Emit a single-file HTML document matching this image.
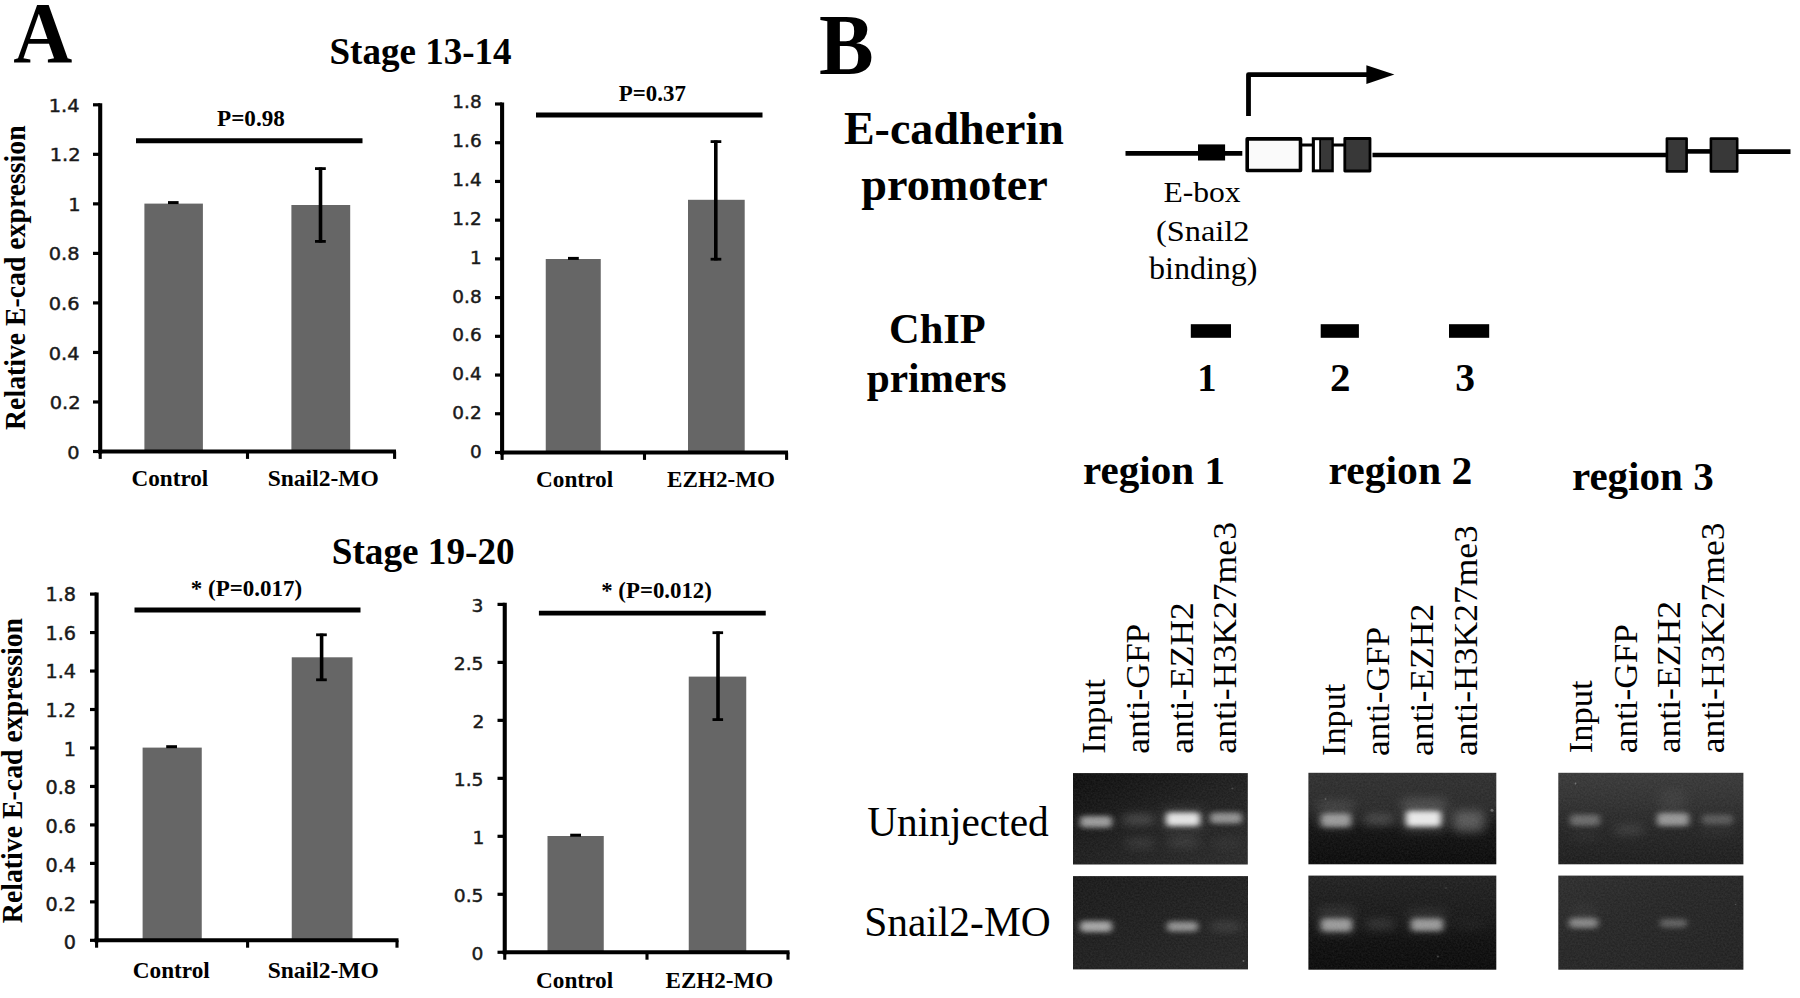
<!DOCTYPE html>
<html lang="en">
<head>
<meta charset="utf-8">
<title>E-cadherin expression and ChIP figure</title>
<style>
html,body{margin:0;padding:0;background:#fff;}
body{width:1800px;height:998px;overflow:hidden;font-family:"Liberation Serif",serif;}
svg{display:block;}
text{white-space:pre;}
</style>
</head>
<body>
<svg width="1800" height="998" viewBox="0 0 1800 998">
<rect x="0" y="0" width="1800" height="998" fill="#ffffff"/>
<g id="shapes">
<rect x="144.4" y="203.6" width="58.50" height="247.90" fill="#666666"/>
<rect x="291.4" y="205.0" width="58.80" height="246.50" fill="#666666"/>
<line x1="100.2" y1="103.2" x2="100.2" y2="453.5" stroke="#000" stroke-width="4.1" stroke-linecap="butt"/>
<line x1="93" y1="104.8" x2="100.2" y2="104.8" stroke="#000" stroke-width="3.2" stroke-linecap="butt"/>
<line x1="93" y1="154.32999999999998" x2="100.2" y2="154.32999999999998" stroke="#000" stroke-width="3.2" stroke-linecap="butt"/>
<line x1="93" y1="203.86" x2="100.2" y2="203.86" stroke="#000" stroke-width="3.2" stroke-linecap="butt"/>
<line x1="93" y1="253.39" x2="100.2" y2="253.39" stroke="#000" stroke-width="3.2" stroke-linecap="butt"/>
<line x1="93" y1="302.92" x2="100.2" y2="302.92" stroke="#000" stroke-width="3.2" stroke-linecap="butt"/>
<line x1="93" y1="352.45" x2="100.2" y2="352.45" stroke="#000" stroke-width="3.2" stroke-linecap="butt"/>
<line x1="93" y1="401.98" x2="100.2" y2="401.98" stroke="#000" stroke-width="3.2" stroke-linecap="butt"/>
<line x1="93" y1="451.51000000000005" x2="100.2" y2="451.51000000000005" stroke="#000" stroke-width="3.2" stroke-linecap="butt"/>
<line x1="98.2" y1="451.5" x2="396" y2="451.5" stroke="#000" stroke-width="4.0" stroke-linecap="butt"/>
<line x1="100.2" y1="451.5" x2="100.2" y2="458.9" stroke="#000" stroke-width="3.1" stroke-linecap="butt"/>
<line x1="247.5" y1="451.5" x2="247.5" y2="458.9" stroke="#000" stroke-width="3.1" stroke-linecap="butt"/>
<line x1="394.6" y1="451.5" x2="394.6" y2="458.9" stroke="#000" stroke-width="3.1" stroke-linecap="butt"/>
<line x1="168" y1="202.6" x2="178.6" y2="202.6" stroke="#000" stroke-width="3.0" stroke-linecap="butt"/>
<line x1="320.5" y1="167.4" x2="320.5" y2="242.6" stroke="#000" stroke-width="3.6" stroke-linecap="butt"/>
<line x1="315" y1="168.6" x2="325.8" y2="168.6" stroke="#000" stroke-width="2.8" stroke-linecap="butt"/>
<line x1="315" y1="241.4" x2="325.8" y2="241.4" stroke="#000" stroke-width="2.8" stroke-linecap="butt"/>
<line x1="136" y1="140.7" x2="362.5" y2="140.7" stroke="#000" stroke-width="5.0" stroke-linecap="butt"/>
<rect x="545.75" y="259.0" width="55.00" height="193.50" fill="#666666"/>
<rect x="688" y="199.8" width="56.70" height="252.70" fill="#666666"/>
<line x1="502.1" y1="102.4" x2="502.1" y2="454.5" stroke="#000" stroke-width="4.1" stroke-linecap="butt"/>
<line x1="495" y1="104.0" x2="502.1" y2="104.0" stroke="#000" stroke-width="3.2" stroke-linecap="butt"/>
<line x1="495" y1="142.72" x2="502.1" y2="142.72" stroke="#000" stroke-width="3.2" stroke-linecap="butt"/>
<line x1="495" y1="181.44" x2="502.1" y2="181.44" stroke="#000" stroke-width="3.2" stroke-linecap="butt"/>
<line x1="495" y1="220.16" x2="502.1" y2="220.16" stroke="#000" stroke-width="3.2" stroke-linecap="butt"/>
<line x1="495" y1="258.88" x2="502.1" y2="258.88" stroke="#000" stroke-width="3.2" stroke-linecap="butt"/>
<line x1="495" y1="297.6" x2="502.1" y2="297.6" stroke="#000" stroke-width="3.2" stroke-linecap="butt"/>
<line x1="495" y1="336.32" x2="502.1" y2="336.32" stroke="#000" stroke-width="3.2" stroke-linecap="butt"/>
<line x1="495" y1="375.03999999999996" x2="502.1" y2="375.03999999999996" stroke="#000" stroke-width="3.2" stroke-linecap="butt"/>
<line x1="495" y1="413.76" x2="502.1" y2="413.76" stroke="#000" stroke-width="3.2" stroke-linecap="butt"/>
<line x1="495" y1="452.48" x2="502.1" y2="452.48" stroke="#000" stroke-width="3.2" stroke-linecap="butt"/>
<line x1="500.1" y1="452.5" x2="788" y2="452.5" stroke="#000" stroke-width="4.0" stroke-linecap="butt"/>
<line x1="502.1" y1="452.5" x2="502.1" y2="459.9" stroke="#000" stroke-width="3.1" stroke-linecap="butt"/>
<line x1="644.5" y1="452.5" x2="644.5" y2="459.9" stroke="#000" stroke-width="3.1" stroke-linecap="butt"/>
<line x1="786.6" y1="452.5" x2="786.6" y2="459.9" stroke="#000" stroke-width="3.1" stroke-linecap="butt"/>
<line x1="568" y1="258.4" x2="578.8" y2="258.4" stroke="#000" stroke-width="3.0" stroke-linecap="butt"/>
<line x1="715.8" y1="140.4" x2="715.8" y2="260.4" stroke="#000" stroke-width="3.6" stroke-linecap="butt"/>
<line x1="710.6" y1="141.6" x2="721.3" y2="141.6" stroke="#000" stroke-width="2.8" stroke-linecap="butt"/>
<line x1="710.6" y1="259.2" x2="721.3" y2="259.2" stroke="#000" stroke-width="2.8" stroke-linecap="butt"/>
<line x1="536" y1="115.0" x2="762.5" y2="115.0" stroke="#000" stroke-width="5.0" stroke-linecap="butt"/>
<rect x="142.6" y="747.6" width="59.15" height="192.70" fill="#666666"/>
<rect x="291.75" y="657.3" width="60.75" height="283.00" fill="#666666"/>
<line x1="96.6" y1="592.5" x2="96.6" y2="942.3" stroke="#000" stroke-width="4.1" stroke-linecap="butt"/>
<line x1="90" y1="594.1" x2="96.6" y2="594.1" stroke="#000" stroke-width="3.2" stroke-linecap="butt"/>
<line x1="90" y1="632.57" x2="96.6" y2="632.57" stroke="#000" stroke-width="3.2" stroke-linecap="butt"/>
<line x1="90" y1="671.04" x2="96.6" y2="671.04" stroke="#000" stroke-width="3.2" stroke-linecap="butt"/>
<line x1="90" y1="709.51" x2="96.6" y2="709.51" stroke="#000" stroke-width="3.2" stroke-linecap="butt"/>
<line x1="90" y1="747.98" x2="96.6" y2="747.98" stroke="#000" stroke-width="3.2" stroke-linecap="butt"/>
<line x1="90" y1="786.45" x2="96.6" y2="786.45" stroke="#000" stroke-width="3.2" stroke-linecap="butt"/>
<line x1="90" y1="824.9200000000001" x2="96.6" y2="824.9200000000001" stroke="#000" stroke-width="3.2" stroke-linecap="butt"/>
<line x1="90" y1="863.39" x2="96.6" y2="863.39" stroke="#000" stroke-width="3.2" stroke-linecap="butt"/>
<line x1="90" y1="901.86" x2="96.6" y2="901.86" stroke="#000" stroke-width="3.2" stroke-linecap="butt"/>
<line x1="90" y1="940.33" x2="96.6" y2="940.33" stroke="#000" stroke-width="3.2" stroke-linecap="butt"/>
<line x1="94.6" y1="940.3" x2="398.5" y2="940.3" stroke="#000" stroke-width="4.0" stroke-linecap="butt"/>
<line x1="96.6" y1="940.3" x2="96.6" y2="947.6999999999999" stroke="#000" stroke-width="3.1" stroke-linecap="butt"/>
<line x1="247.6" y1="940.3" x2="247.6" y2="947.6999999999999" stroke="#000" stroke-width="3.1" stroke-linecap="butt"/>
<line x1="397" y1="940.3" x2="397" y2="947.6999999999999" stroke="#000" stroke-width="3.1" stroke-linecap="butt"/>
<line x1="166.2" y1="746.7" x2="177" y2="746.7" stroke="#000" stroke-width="3.0" stroke-linecap="butt"/>
<line x1="321.6" y1="633.6" x2="321.6" y2="681.0" stroke="#000" stroke-width="3.6" stroke-linecap="butt"/>
<line x1="316.1" y1="634.8000000000001" x2="326.8" y2="634.8000000000001" stroke="#000" stroke-width="2.8" stroke-linecap="butt"/>
<line x1="316.1" y1="679.8" x2="326.8" y2="679.8" stroke="#000" stroke-width="2.8" stroke-linecap="butt"/>
<line x1="134.5" y1="610.0" x2="360.5" y2="610.0" stroke="#000" stroke-width="5.0" stroke-linecap="butt"/>
<rect x="547.5" y="836.0" width="56.25" height="116.30" fill="#666666"/>
<rect x="688.75" y="676.6" width="57.50" height="275.70" fill="#666666"/>
<line x1="504.75" y1="602.8" x2="504.75" y2="954.3" stroke="#000" stroke-width="4.1" stroke-linecap="butt"/>
<line x1="497.5" y1="604.4" x2="504.75" y2="604.4" stroke="#000" stroke-width="3.2" stroke-linecap="butt"/>
<line x1="497.5" y1="662.38" x2="504.75" y2="662.38" stroke="#000" stroke-width="3.2" stroke-linecap="butt"/>
<line x1="497.5" y1="720.36" x2="504.75" y2="720.36" stroke="#000" stroke-width="3.2" stroke-linecap="butt"/>
<line x1="497.5" y1="778.3399999999999" x2="504.75" y2="778.3399999999999" stroke="#000" stroke-width="3.2" stroke-linecap="butt"/>
<line x1="497.5" y1="836.3199999999999" x2="504.75" y2="836.3199999999999" stroke="#000" stroke-width="3.2" stroke-linecap="butt"/>
<line x1="497.5" y1="894.3" x2="504.75" y2="894.3" stroke="#000" stroke-width="3.2" stroke-linecap="butt"/>
<line x1="497.5" y1="952.28" x2="504.75" y2="952.28" stroke="#000" stroke-width="3.2" stroke-linecap="butt"/>
<line x1="502.75" y1="952.3" x2="789.5" y2="952.3" stroke="#000" stroke-width="4.0" stroke-linecap="butt"/>
<line x1="504.75" y1="952.3" x2="504.75" y2="959.6999999999999" stroke="#000" stroke-width="3.1" stroke-linecap="butt"/>
<line x1="647" y1="952.3" x2="647" y2="959.6999999999999" stroke="#000" stroke-width="3.1" stroke-linecap="butt"/>
<line x1="788" y1="952.3" x2="788" y2="959.6999999999999" stroke="#000" stroke-width="3.1" stroke-linecap="butt"/>
<line x1="570.2" y1="835.2" x2="581" y2="835.2" stroke="#000" stroke-width="3.0" stroke-linecap="butt"/>
<line x1="718" y1="631.5" x2="718" y2="720.8" stroke="#000" stroke-width="3.6" stroke-linecap="butt"/>
<line x1="712.5" y1="632.7" x2="723.1" y2="632.7" stroke="#000" stroke-width="2.8" stroke-linecap="butt"/>
<line x1="712.5" y1="719.5999999999999" x2="723.1" y2="719.5999999999999" stroke="#000" stroke-width="2.8" stroke-linecap="butt"/>
<line x1="538.9" y1="613.1" x2="765.75" y2="613.1" stroke="#000" stroke-width="4.9" stroke-linecap="butt"/>
<line x1="1125.5" y1="153.4" x2="1242.3" y2="153.4" stroke="#000" stroke-width="4.8" stroke-linecap="butt"/>
<line x1="1372.5" y1="155.0" x2="1666" y2="155.0" stroke="#000" stroke-width="4.5" stroke-linecap="butt"/>
<line x1="1687" y1="151.4" x2="1710" y2="151.4" stroke="#000" stroke-width="4.6" stroke-linecap="butt"/>
<line x1="1738" y1="151.7" x2="1790.5" y2="151.7" stroke="#000" stroke-width="4.8" stroke-linecap="butt"/>
<line x1="1301" y1="145.0" x2="1313" y2="145.0" stroke="#000" stroke-width="3.0" stroke-linecap="butt"/>
<line x1="1333" y1="145.0" x2="1344.5" y2="145.0" stroke="#000" stroke-width="3.0" stroke-linecap="butt"/>
<rect x="1198" y="144.4" width="27.10" height="16.10" fill="#000"/>
<rect x="1247.2" y="138.9" width="53.30" height="31.60" fill="#fafafa" stroke="#000" stroke-width="3.6" stroke-linejoin="round"/>
<rect x="1311.8" y="137.2" width="22.00" height="35.10" fill="#000"/>
<rect x="1314.9" y="140.2" width="4.30" height="29.20" fill="#fff"/>
<rect x="1321.0" y="140.2" width="10.40" height="29.20" fill="#383838"/>
<rect x="1344.8" y="138.5" width="25.20" height="32.50" fill="#383838" stroke="#000" stroke-width="2.8" stroke-linejoin="round"/>
<rect x="1666.9" y="138.6" width="19.70" height="32.80" fill="#383838" stroke="#000" stroke-width="2.6" stroke-linejoin="round"/>
<rect x="1710.9" y="138.6" width="26.30" height="32.80" fill="#383838" stroke="#000" stroke-width="2.6" stroke-linejoin="round"/>
<polyline points="1248.5,116 1248.5,74.6 1368,74.6" fill="none" stroke="#000" stroke-width="4.8" stroke-linejoin="round"/>
<polygon points="1366.4,65.2 1394.4,74.6 1366.4,84.1" fill="#000"/>
<rect x="1190.8" y="324.2" width="40.20" height="13.60" fill="#000"/>
<rect x="1320.7" y="324.2" width="38.20" height="13.60" fill="#000"/>
<rect x="1449" y="324.2" width="40.20" height="13.60" fill="#000"/>
</g>
<g id="gels">
<defs>
<filter id="b3" x="-30%" y="-90%" width="160%" height="280%"><feGaussianBlur stdDeviation="3.4 2.9"/></filter>
<filter id="b5" x="-40%" y="-100%" width="180%" height="300%"><feGaussianBlur stdDeviation="5.5 5"/></filter>
<filter id="noise" x="0" y="0" width="100%" height="100%"><feTurbulence type="fractalNoise" baseFrequency="0.55" numOctaves="2" seed="7" result="n"/><feColorMatrix in="n" type="matrix" values="0 0 0 0 1  0 0 0 0 1  0 0 0 0 1  0.11 0 0 0 -0.025"/></filter>
<linearGradient id="g1a" x1="0" y1="0" x2="1" y2="1"><stop offset="0" stop-color="#0c0c0c"/><stop offset="0.45" stop-color="#1c1c1c"/><stop offset="1" stop-color="#2a2a2a"/></linearGradient>
<linearGradient id="g1b" x1="0" y1="0" x2="1" y2="1"><stop offset="0" stop-color="#181818"/><stop offset="1" stop-color="#252525"/></linearGradient>
<linearGradient id="g2a" x1="0" y1="0" x2="0" y2="1"><stop offset="0" stop-color="#2e2e2e"/><stop offset="0.35" stop-color="#2a2a2a"/><stop offset="0.62" stop-color="#111111"/><stop offset="1" stop-color="#090909"/></linearGradient>
<linearGradient id="g2b" x1="0" y1="0" x2="0" y2="1"><stop offset="0" stop-color="#202020"/><stop offset="0.45" stop-color="#171717"/><stop offset="0.7" stop-color="#0d0d0d"/><stop offset="1" stop-color="#090909"/></linearGradient>
<linearGradient id="g3a" x1="0" y1="0" x2="0" y2="1"><stop offset="0" stop-color="#383838"/><stop offset="0.3" stop-color="#303030"/><stop offset="0.6" stop-color="#242424"/><stop offset="1" stop-color="#1c1c1c"/></linearGradient>
<linearGradient id="g3b" x1="0" y1="0" x2="1" y2="1"><stop offset="0" stop-color="#2c2c2c"/><stop offset="0.4" stop-color="#252525"/><stop offset="1" stop-color="#202020"/></linearGradient>
</defs>
<clipPath id="c1a"><rect x="1073" y="773.1" width="174.8" height="91.4"/></clipPath>
<rect x="1073" y="773.1" width="174.8" height="91.4" fill="url(#g1a)"/>
<g clip-path="url(#c1a)">
<rect x="1080" y="816" width="32.0" height="11.5" rx="4" fill="#fff" opacity="0.56" filter="url(#b3)"/>
<rect x="1123" y="815" width="31.0" height="9.0" rx="4" fill="#fff" opacity="0.21" filter="url(#b5)"/>
<rect x="1126" y="838" width="28.0" height="10.0" rx="4" fill="#fff" opacity="0.1" filter="url(#b5)"/>
<rect x="1166" y="812.5" width="34.0" height="13.5" rx="4" fill="#fff" opacity="0.86" filter="url(#b3)"/>
<rect x="1162" y="806" width="42.0" height="26.0" rx="4" fill="#fff" opacity="0.08" filter="url(#b5)"/>
<rect x="1168" y="837" width="30.0" height="10.0" rx="4" fill="#fff" opacity="0.11" filter="url(#b5)"/>
<rect x="1210" y="812.5" width="32.0" height="11.0" rx="4" fill="#fff" opacity="0.5" filter="url(#b3)"/>
<rect x="1212" y="838" width="28.0" height="10.0" rx="4" fill="#fff" opacity="0.05" filter="url(#b5)"/>
<circle cx="1232.5" cy="788.5" r="1.1" fill="#fff" opacity="0.18"/>
<rect x="1073" y="773.1" width="174.8" height="91.4" filter="url(#noise)"/>
</g>
<clipPath id="c1b"><rect x="1073" y="876.1" width="175.0" height="93.3"/></clipPath>
<rect x="1073" y="876.1" width="175.0" height="93.3" fill="url(#g1b)"/>
<g clip-path="url(#c1b)">
<rect x="1080" y="921" width="32.0" height="11.0" rx="4" fill="#fff" opacity="0.6" filter="url(#b3)"/>
<rect x="1167" y="921.5" width="31.0" height="10.0" rx="4" fill="#fff" opacity="0.5" filter="url(#b3)"/>
<rect x="1211" y="923" width="29.0" height="7.0" rx="4" fill="#fff" opacity="0.16" filter="url(#b5)"/>
<circle cx="1243.5" cy="961" r="0.9" fill="#fff" opacity="0.3"/>
<rect x="1073" y="876.1" width="175.0" height="93.3" filter="url(#noise)"/>
</g>
<clipPath id="c2a"><rect x="1308.4" y="772.8" width="187.9" height="91.5"/></clipPath>
<rect x="1308.4" y="772.8" width="187.9" height="91.5" fill="url(#g2a)"/>
<g clip-path="url(#c2a)">
<rect x="1321" y="813.5" width="30.0" height="13.5" rx="4" fill="#fff" opacity="0.5" filter="url(#b3)"/>
<rect x="1318" y="800" width="36.0" height="30.0" rx="4" fill="#fff" opacity="0.1" filter="url(#b5)"/>
<rect x="1364" y="814" width="30.0" height="11.0" rx="4" fill="#fff" opacity="0.2" filter="url(#b5)"/>
<rect x="1406" y="811" width="35.0" height="15.5" rx="4" fill="#fff" opacity="0.88" filter="url(#b3)"/>
<rect x="1402" y="798" width="44.0" height="34.0" rx="4" fill="#fff" opacity="0.15" filter="url(#b5)"/>
<rect x="1453" y="811" width="31.0" height="21.0" rx="4" fill="#fff" opacity="0.27" filter="url(#b5)"/>
<circle cx="1492" cy="810.2" r="1.5" fill="#fff" opacity="0.3"/>
<circle cx="1325.5" cy="799" r="0.9" fill="#fff" opacity="0.2"/>
<rect x="1308.4" y="772.8" width="187.9" height="91.5" filter="url(#noise)"/>
</g>
<clipPath id="c2b"><rect x="1308.4" y="875.6" width="187.9" height="94.1"/></clipPath>
<rect x="1308.4" y="875.6" width="187.9" height="94.1" fill="url(#g2b)"/>
<g clip-path="url(#c2b)">
<rect x="1321" y="918.5" width="31.0" height="13.0" rx="4" fill="#fff" opacity="0.52" filter="url(#b3)"/>
<rect x="1318" y="906" width="37.0" height="30.0" rx="4" fill="#fff" opacity="0.09" filter="url(#b5)"/>
<rect x="1366" y="920" width="28.0" height="9.0" rx="4" fill="#fff" opacity="0.14" filter="url(#b5)"/>
<rect x="1411" y="918.5" width="32.0" height="12.5" rx="4" fill="#fff" opacity="0.52" filter="url(#b3)"/>
<rect x="1408" y="908" width="38.0" height="26.0" rx="4" fill="#fff" opacity="0.07" filter="url(#b5)"/>
<rect x="1456" y="921" width="28.0" height="8.0" rx="4" fill="#fff" opacity="0.04" filter="url(#b5)"/>
<circle cx="1438" cy="956.5" r="1.1" fill="#fff" opacity="0.2"/>
<circle cx="1446" cy="888" r="1.0" fill="#fff" opacity="0.12"/>
<rect x="1308.4" y="875.6" width="187.9" height="94.1" filter="url(#noise)"/>
</g>
<clipPath id="c3a"><rect x="1558.3" y="772.8" width="185.1" height="91.5"/></clipPath>
<rect x="1558.3" y="772.8" width="185.1" height="91.5" fill="url(#g3a)"/>
<g clip-path="url(#c3a)">
<rect x="1570" y="814.5" width="30.0" height="11.5" rx="4" fill="#fff" opacity="0.3" filter="url(#b3)"/>
<rect x="1572" y="832" width="26.0" height="8.0" rx="4" fill="#fff" opacity="0.04" filter="url(#b5)"/>
<rect x="1615" y="825.5" width="28.0" height="8.5" rx="4" fill="#fff" opacity="0.13" filter="url(#b5)"/>
<rect x="1657" y="813" width="32.0" height="13.0" rx="4" fill="#fff" opacity="0.5" filter="url(#b3)"/>
<rect x="1660" y="790" width="26.0" height="25.0" rx="4" fill="#fff" opacity="0.05" filter="url(#b5)"/>
<rect x="1702" y="814.5" width="31.0" height="10.0" rx="4" fill="#fff" opacity="0.22" filter="url(#b3)"/>
<rect x="1700" y="826" width="35.0" height="10.0" rx="4" fill="#fff" opacity="0.03" filter="url(#b5)"/>
<circle cx="1575.5" cy="783.5" r="0.9" fill="#fff" opacity="0.3"/>
<rect x="1558.3" y="772.8" width="185.1" height="91.5" filter="url(#noise)"/>
</g>
<clipPath id="c3b"><rect x="1558.3" y="875.6" width="185.1" height="94.1"/></clipPath>
<rect x="1558.3" y="875.6" width="185.1" height="94.1" fill="url(#g3b)"/>
<g clip-path="url(#c3b)">
<rect x="1569" y="918" width="29.0" height="10.0" rx="4" fill="#fff" opacity="0.42" filter="url(#b3)"/>
<rect x="1572" y="905" width="24.0" height="20.0" rx="4" fill="#fff" opacity="0.04" filter="url(#b5)"/>
<rect x="1660" y="919" width="27.0" height="8.5" rx="4" fill="#fff" opacity="0.27" filter="url(#b3)"/>
<circle cx="1735.5" cy="904.5" r="0.8" fill="#fff" opacity="0.2"/>
<rect x="1558.3" y="875.6" width="185.1" height="94.1" filter="url(#noise)"/>
</g>
</g>
<g id="labels">
<text transform="translate(13.20,61.70) scale(0.9516,1)" fill="#000" style="font-family:'Liberation Serif', serif;font-weight:bold;font-size:86px">A</text>
<text transform="translate(819.05,73.80) scale(0.9491,1)" fill="#000" style="font-family:'Liberation Serif', serif;font-weight:bold;font-size:86.4px">B</text>
<text transform="translate(329.45,64.40) scale(0.9756,1)" fill="#000" style="font-family:'Liberation Serif', serif;font-weight:bold;font-size:38px">Stage 13-14</text>
<text transform="translate(331.79,564.40) scale(0.9793,1)" fill="#000" style="font-family:'Liberation Serif', serif;font-weight:bold;font-size:38px">Stage 19-20</text>
<text transform="translate(217.00,125.80) scale(1.0164,1)" fill="#000" style="font-family:'Liberation Serif', serif;font-weight:bold;font-size:22.8px">P=0.98</text>
<text transform="translate(618.80,100.60) scale(1.0043,1)" fill="#000" style="font-family:'Liberation Serif', serif;font-weight:bold;font-size:22.8px">P=0.37</text>
<text transform="translate(190.80,595.60) scale(1.0096,1)" fill="#000" style="font-family:'Liberation Serif', serif;font-weight:bold;font-size:22.8px">* (P=0.017)</text>
<text transform="translate(601.25,598.10) scale(1.0009,1)" fill="#000" style="font-family:'Liberation Serif', serif;font-weight:bold;font-size:22.8px">* (P=0.012)</text>
<text transform="translate(131.48,485.80) scale(1.0170,1)" fill="#000" style="font-family:'Liberation Serif', serif;font-weight:bold;font-size:22.8px">Control</text>
<text transform="translate(267.72,485.80) scale(1.0313,1)" fill="#000" style="font-family:'Liberation Serif', serif;font-weight:bold;font-size:22.8px">Snail2-MO</text>
<text transform="translate(535.98,487.20) scale(1.0211,1)" fill="#000" style="font-family:'Liberation Serif', serif;font-weight:bold;font-size:22.8px">Control</text>
<text transform="translate(667.00,487.20) scale(1.0156,1)" fill="#000" style="font-family:'Liberation Serif', serif;font-weight:bold;font-size:22.8px">EZH2-MO</text>
<text transform="translate(132.73,977.60) scale(1.0204,1)" fill="#000" style="font-family:'Liberation Serif', serif;font-weight:bold;font-size:22.8px">Control</text>
<text transform="translate(267.72,977.60) scale(1.0313,1)" fill="#000" style="font-family:'Liberation Serif', serif;font-weight:bold;font-size:22.8px">Snail2-MO</text>
<text transform="translate(535.98,988.20) scale(1.0211,1)" fill="#000" style="font-family:'Liberation Serif', serif;font-weight:bold;font-size:22.8px">Control</text>
<text transform="translate(665.50,988.20) scale(1.0128,1)" fill="#000" style="font-family:'Liberation Serif', serif;font-weight:bold;font-size:22.8px">EZH2-MO</text>
<text transform="translate(25.20,429.90) rotate(-90) scale(0.9250,1)" fill="#000" style="font-family:'Liberation Serif', serif;font-weight:bold;font-size:30px">Relative E-cad expression</text>
<text transform="translate(22.40,923.20) rotate(-90) scale(0.9428,1)" fill="#000" style="font-family:'Liberation Serif', serif;font-weight:bold;font-size:29.5px">Relative E-cad expression</text>
<text transform="translate(843.90,144.40) scale(1.0009,1)" fill="#000" style="font-family:'Liberation Serif', serif;font-weight:bold;font-size:46px">E-cadherin</text>
<text transform="translate(861.25,200.00) scale(1.0050,1)" fill="#000" style="font-family:'Liberation Serif', serif;font-weight:bold;font-size:46px">promoter</text>
<text transform="translate(1163.40,202.10) scale(1.0365,1)" fill="#000" style="font-family:'Liberation Serif', serif;font-weight:normal;font-size:30.5px">E-box</text>
<text transform="translate(1155.94,240.50) scale(1.0611,1)" fill="#000" style="font-family:'Liberation Serif', serif;font-weight:normal;font-size:30.5px">(Snail2</text>
<text transform="translate(1149.00,278.70) scale(1.0499,1)" fill="#000" style="font-family:'Liberation Serif', serif;font-weight:normal;font-size:30.5px">binding)</text>
<text transform="translate(889.00,342.90) scale(0.9982,1)" fill="#000" style="font-family:'Liberation Serif', serif;font-weight:bold;font-size:42.5px">ChIP</text>
<text transform="translate(866.70,391.50) scale(0.9729,1)" fill="#000" style="font-family:'Liberation Serif', serif;font-weight:bold;font-size:42.5px">primers</text>
<text transform="translate(1197.37,391.00) scale(0.9437,1)" fill="#000" style="font-family:'Liberation Serif', serif;font-weight:bold;font-size:41px">1</text>
<text transform="translate(1330.00,391.00) scale(1.0000,1)" fill="#000" style="font-family:'Liberation Serif', serif;font-weight:bold;font-size:41px">2</text>
<text transform="translate(1455.24,391.00) scale(0.9632,1)" fill="#000" style="font-family:'Liberation Serif', serif;font-weight:bold;font-size:41px">3</text>
<text transform="translate(1083.00,484.30) scale(1.0029,1)" fill="#000" style="font-family:'Liberation Serif', serif;font-weight:bold;font-size:41px">region 1</text>
<text transform="translate(1328.48,484.30) scale(1.0158,1)" fill="#000" style="font-family:'Liberation Serif', serif;font-weight:bold;font-size:41px">region 2</text>
<text transform="translate(1571.90,490.00) scale(1.0014,1)" fill="#000" style="font-family:'Liberation Serif', serif;font-weight:bold;font-size:41px">region 3</text>
<text transform="translate(867.20,836.30) scale(1.0020,1)" fill="#000" style="font-family:'Liberation Serif', serif;font-weight:normal;font-size:41.3px">Uninjected</text>
<text transform="translate(864.19,936.00) scale(1.0038,1)" fill="#000" style="font-family:'Liberation Serif', serif;font-weight:normal;font-size:41.3px">Snail2-MO</text>
<text transform="translate(1104.60,753.64) rotate(-90) scale(1.0403,1)" fill="#000" style="font-family:'Liberation Serif', serif;font-weight:normal;font-size:34px">Input</text>
<text transform="translate(1149.40,753.64) rotate(-90) scale(1.0426,1)" fill="#000" style="font-family:'Liberation Serif', serif;font-weight:normal;font-size:34px">anti-GFP</text>
<text transform="translate(1192.70,753.64) rotate(-90) scale(1.0405,1)" fill="#000" style="font-family:'Liberation Serif', serif;font-weight:normal;font-size:34px">anti-EZH2</text>
<text transform="translate(1236.00,753.65) rotate(-90) scale(1.0486,1)" fill="#000" style="font-family:'Liberation Serif', serif;font-weight:normal;font-size:34px">anti-H3K27me3</text>
<text transform="translate(1344.60,755.91) rotate(-90) scale(1.0053,1)" fill="#000" style="font-family:'Liberation Serif', serif;font-weight:normal;font-size:34px">Input</text>
<text transform="translate(1388.70,755.94) rotate(-90) scale(1.0361,1)" fill="#000" style="font-family:'Liberation Serif', serif;font-weight:normal;font-size:34px">anti-GFP</text>
<text transform="translate(1432.60,755.95) rotate(-90) scale(1.0474,1)" fill="#000" style="font-family:'Liberation Serif', serif;font-weight:normal;font-size:34px">anti-EZH2</text>
<text transform="translate(1477.20,755.94) rotate(-90) scale(1.0445,1)" fill="#000" style="font-family:'Liberation Serif', serif;font-weight:normal;font-size:34px">anti-H3K27me3</text>
<text transform="translate(1592.30,753.21) rotate(-90) scale(1.0137,1)" fill="#000" style="font-family:'Liberation Serif', serif;font-weight:normal;font-size:34px">Input</text>
<text transform="translate(1637.00,753.24) rotate(-90) scale(1.0361,1)" fill="#000" style="font-family:'Liberation Serif', serif;font-weight:normal;font-size:34px">anti-GFP</text>
<text transform="translate(1680.30,753.25) rotate(-90) scale(1.0474,1)" fill="#000" style="font-family:'Liberation Serif', serif;font-weight:normal;font-size:34px">anti-EZH2</text>
<text transform="translate(1723.60,753.24) rotate(-90) scale(1.0445,1)" fill="#000" style="font-family:'Liberation Serif', serif;font-weight:normal;font-size:34px">anti-H3K27me3</text>
<text transform="translate(48.68,111.60) scale(1.0589,1)" fill="#1a1a1a" stroke="#1a1a1a" stroke-width="0.45" style="font-family:'DejaVu Sans', 'Liberation Sans', sans-serif;font-weight:normal;font-size:18.3px">1.4</text>
<text transform="translate(49.74,161.20) scale(1.0589,1)" fill="#1a1a1a" stroke="#1a1a1a" stroke-width="0.45" style="font-family:'DejaVu Sans', 'Liberation Sans', sans-serif;font-weight:normal;font-size:18.3px">1.2</text>
<text transform="translate(68.21,210.80) scale(1.0589,1)" fill="#1a1a1a" stroke="#1a1a1a" stroke-width="0.45" style="font-family:'DejaVu Sans', 'Liberation Sans', sans-serif;font-weight:normal;font-size:18.3px">1</text>
<text transform="translate(48.68,260.40) scale(1.0589,1)" fill="#1a1a1a" stroke="#1a1a1a" stroke-width="0.45" style="font-family:'DejaVu Sans', 'Liberation Sans', sans-serif;font-weight:normal;font-size:18.3px">0.8</text>
<text transform="translate(48.68,310.00) scale(1.0589,1)" fill="#1a1a1a" stroke="#1a1a1a" stroke-width="0.45" style="font-family:'DejaVu Sans', 'Liberation Sans', sans-serif;font-weight:normal;font-size:18.3px">0.6</text>
<text transform="translate(48.68,359.60) scale(1.0589,1)" fill="#1a1a1a" stroke="#1a1a1a" stroke-width="0.45" style="font-family:'DejaVu Sans', 'Liberation Sans', sans-serif;font-weight:normal;font-size:18.3px">0.4</text>
<text transform="translate(49.74,409.20) scale(1.0589,1)" fill="#1a1a1a" stroke="#1a1a1a" stroke-width="0.45" style="font-family:'DejaVu Sans', 'Liberation Sans', sans-serif;font-weight:normal;font-size:18.3px">0.2</text>
<text transform="translate(67.15,458.80) scale(1.0589,1)" fill="#1a1a1a" stroke="#1a1a1a" stroke-width="0.45" style="font-family:'DejaVu Sans', 'Liberation Sans', sans-serif;font-weight:normal;font-size:18.3px">0</text>
<text transform="translate(452.33,108.10) scale(1.0709,1)" fill="#1a1a1a" stroke="#1a1a1a" stroke-width="0.45" style="font-family:'DejaVu Sans', 'Liberation Sans', sans-serif;font-weight:normal;font-size:17.2px">1.8</text>
<text transform="translate(452.33,146.99) scale(1.0709,1)" fill="#1a1a1a" stroke="#1a1a1a" stroke-width="0.45" style="font-family:'DejaVu Sans', 'Liberation Sans', sans-serif;font-weight:normal;font-size:17.2px">1.6</text>
<text transform="translate(452.33,185.88) scale(1.0709,1)" fill="#1a1a1a" stroke="#1a1a1a" stroke-width="0.45" style="font-family:'DejaVu Sans', 'Liberation Sans', sans-serif;font-weight:normal;font-size:17.2px">1.4</text>
<text transform="translate(452.33,224.77) scale(1.0709,1)" fill="#1a1a1a" stroke="#1a1a1a" stroke-width="0.45" style="font-family:'DejaVu Sans', 'Liberation Sans', sans-serif;font-weight:normal;font-size:17.2px">1.2</text>
<text transform="translate(469.89,263.66) scale(1.0709,1)" fill="#1a1a1a" stroke="#1a1a1a" stroke-width="0.45" style="font-family:'DejaVu Sans', 'Liberation Sans', sans-serif;font-weight:normal;font-size:17.2px">1</text>
<text transform="translate(452.33,302.55) scale(1.0709,1)" fill="#1a1a1a" stroke="#1a1a1a" stroke-width="0.45" style="font-family:'DejaVu Sans', 'Liberation Sans', sans-serif;font-weight:normal;font-size:17.2px">0.8</text>
<text transform="translate(452.33,341.44) scale(1.0709,1)" fill="#1a1a1a" stroke="#1a1a1a" stroke-width="0.45" style="font-family:'DejaVu Sans', 'Liberation Sans', sans-serif;font-weight:normal;font-size:17.2px">0.6</text>
<text transform="translate(452.33,380.33) scale(1.0709,1)" fill="#1a1a1a" stroke="#1a1a1a" stroke-width="0.45" style="font-family:'DejaVu Sans', 'Liberation Sans', sans-serif;font-weight:normal;font-size:17.2px">0.4</text>
<text transform="translate(452.33,419.22) scale(1.0709,1)" fill="#1a1a1a" stroke="#1a1a1a" stroke-width="0.45" style="font-family:'DejaVu Sans', 'Liberation Sans', sans-serif;font-weight:normal;font-size:17.2px">0.2</text>
<text transform="translate(469.89,458.11) scale(1.0709,1)" fill="#1a1a1a" stroke="#1a1a1a" stroke-width="0.45" style="font-family:'DejaVu Sans', 'Liberation Sans', sans-serif;font-weight:normal;font-size:17.2px">0</text>
<text transform="translate(45.46,601.00) scale(1.0216,1)" fill="#1a1a1a" stroke="#1a1a1a" stroke-width="0.45" style="font-family:'DejaVu Sans', 'Liberation Sans', sans-serif;font-weight:normal;font-size:18.8px">1.8</text>
<text transform="translate(45.46,639.69) scale(1.0216,1)" fill="#1a1a1a" stroke="#1a1a1a" stroke-width="0.45" style="font-family:'DejaVu Sans', 'Liberation Sans', sans-serif;font-weight:normal;font-size:18.8px">1.6</text>
<text transform="translate(45.46,678.38) scale(1.0216,1)" fill="#1a1a1a" stroke="#1a1a1a" stroke-width="0.45" style="font-family:'DejaVu Sans', 'Liberation Sans', sans-serif;font-weight:normal;font-size:18.8px">1.4</text>
<text transform="translate(45.46,717.07) scale(1.0216,1)" fill="#1a1a1a" stroke="#1a1a1a" stroke-width="0.45" style="font-family:'DejaVu Sans', 'Liberation Sans', sans-serif;font-weight:normal;font-size:18.8px">1.2</text>
<text transform="translate(63.76,755.76) scale(1.0216,1)" fill="#1a1a1a" stroke="#1a1a1a" stroke-width="0.45" style="font-family:'DejaVu Sans', 'Liberation Sans', sans-serif;font-weight:normal;font-size:18.8px">1</text>
<text transform="translate(45.46,794.45) scale(1.0216,1)" fill="#1a1a1a" stroke="#1a1a1a" stroke-width="0.45" style="font-family:'DejaVu Sans', 'Liberation Sans', sans-serif;font-weight:normal;font-size:18.8px">0.8</text>
<text transform="translate(45.46,833.14) scale(1.0216,1)" fill="#1a1a1a" stroke="#1a1a1a" stroke-width="0.45" style="font-family:'DejaVu Sans', 'Liberation Sans', sans-serif;font-weight:normal;font-size:18.8px">0.6</text>
<text transform="translate(45.46,871.83) scale(1.0216,1)" fill="#1a1a1a" stroke="#1a1a1a" stroke-width="0.45" style="font-family:'DejaVu Sans', 'Liberation Sans', sans-serif;font-weight:normal;font-size:18.8px">0.4</text>
<text transform="translate(45.46,910.52) scale(1.0216,1)" fill="#1a1a1a" stroke="#1a1a1a" stroke-width="0.45" style="font-family:'DejaVu Sans', 'Liberation Sans', sans-serif;font-weight:normal;font-size:18.8px">0.2</text>
<text transform="translate(63.76,949.21) scale(1.0216,1)" fill="#1a1a1a" stroke="#1a1a1a" stroke-width="0.45" style="font-family:'DejaVu Sans', 'Liberation Sans', sans-serif;font-weight:normal;font-size:18.8px">0</text>
<text transform="translate(471.57,611.55) scale(1.0211,1)" fill="#1a1a1a" stroke="#1a1a1a" stroke-width="0.45" style="font-family:'DejaVu Sans', 'Liberation Sans', sans-serif;font-weight:normal;font-size:18.3px">3</text>
<text transform="translate(453.76,669.59) scale(1.0211,1)" fill="#1a1a1a" stroke="#1a1a1a" stroke-width="0.45" style="font-family:'DejaVu Sans', 'Liberation Sans', sans-serif;font-weight:normal;font-size:18.3px">2.5</text>
<text transform="translate(472.59,727.63) scale(1.0211,1)" fill="#1a1a1a" stroke="#1a1a1a" stroke-width="0.45" style="font-family:'DejaVu Sans', 'Liberation Sans', sans-serif;font-weight:normal;font-size:18.3px">2</text>
<text transform="translate(453.76,785.67) scale(1.0211,1)" fill="#1a1a1a" stroke="#1a1a1a" stroke-width="0.45" style="font-family:'DejaVu Sans', 'Liberation Sans', sans-serif;font-weight:normal;font-size:18.3px">1.5</text>
<text transform="translate(472.59,843.71) scale(1.0211,1)" fill="#1a1a1a" stroke="#1a1a1a" stroke-width="0.45" style="font-family:'DejaVu Sans', 'Liberation Sans', sans-serif;font-weight:normal;font-size:18.3px">1</text>
<text transform="translate(453.76,901.75) scale(1.0211,1)" fill="#1a1a1a" stroke="#1a1a1a" stroke-width="0.45" style="font-family:'DejaVu Sans', 'Liberation Sans', sans-serif;font-weight:normal;font-size:18.3px">0.5</text>
<text transform="translate(471.57,959.79) scale(1.0211,1)" fill="#1a1a1a" stroke="#1a1a1a" stroke-width="0.45" style="font-family:'DejaVu Sans', 'Liberation Sans', sans-serif;font-weight:normal;font-size:18.3px">0</text>
</g>
</svg>
</body>
</html>
